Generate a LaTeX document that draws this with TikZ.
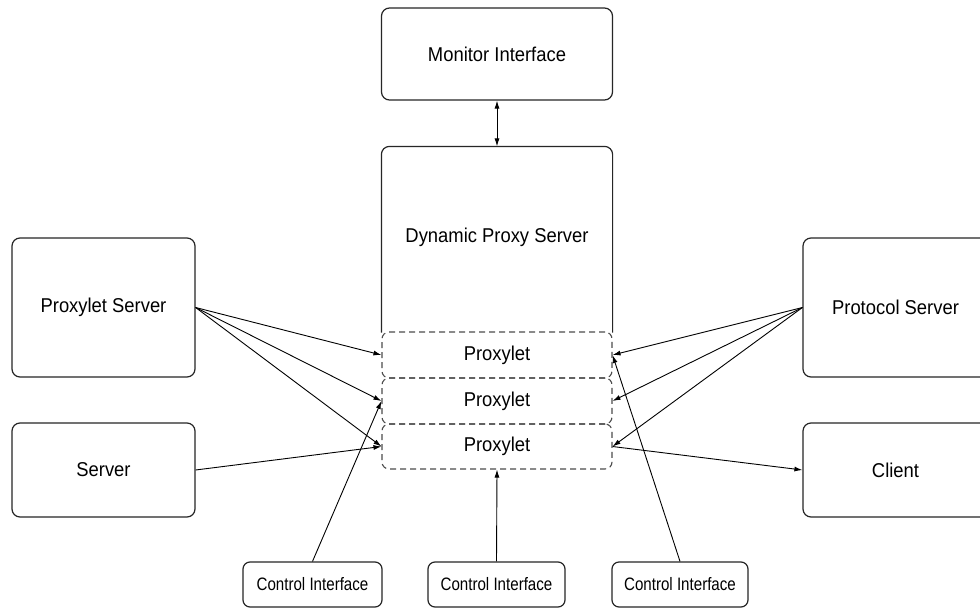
\documentclass[tikz,border=0pt]{standalone}
\usepackage{fontspec}
\setmainfont{Liberation Sans}
\newfontfamily\mainnarrow[FakeStretch=0.92]{Liberation Sans}
\newfontfamily\cinarrow[FakeStretch=0.84]{Liberation Sans}
\usetikzlibrary{arrows.meta}
\begin{document}
\begin{tikzpicture}[x=1pt,y=-1pt,
  box/.style={draw=black!85,line width=1.2pt,rounded corners=8pt,inner sep=0pt,
    font=\mainnarrow\fontsize{20}{24}\selectfont},
  proxbox/.style={draw=black!70,line width=1.1pt,dash pattern=on 6pt off 4pt,rounded corners=7pt,
    inner sep=0pt,minimum width=230pt,font=\mainnarrow\fontsize{20}{24}\selectfont},
  cibox/.style={draw=black!85,line width=1.2pt,rounded corners=7pt,inner sep=0pt,
    minimum height=45pt,font=\cinarrow\fontsize{18}{21}\selectfont},
  arr/.style={line width=0.9pt,-{Latex[length=8pt,width=5pt]}},
]
\clip (0,0) rectangle (980,608);
\fill[white] (0,0) rectangle (980,608);

\node[box,minimum width=231pt,minimum height=92pt] (mon) at (497,54) {Monitor Interface};
\node[box,draw=none,minimum width=230pt,minimum height=185pt] (dps) at (497,239.5) {};
\node[font=\mainnarrow\fontsize{20}{24}\selectfont] (dpst) at (497,237) {Dynamic Proxy Server};
\draw[line width=1.2pt,draw=black!85,rounded corners=8pt] (dps.south west) -- (dps.north west) -- (dps.north east) -- (dps.south east);

\node[proxbox,minimum height=46pt] (p1) at (497,355) {Proxylet};
\node[proxbox,minimum height=46pt] (p2) at (497,401) {Proxylet};
\node[proxbox,minimum height=45pt] (p3) at (497,446.5) {Proxylet};

\node[box,minimum width=183pt,minimum height=139pt] (ps) at (103.5,307.5) {Proxylet Server};
\node[box,minimum width=183pt,minimum height=94pt] (srv) at (103.5,470) {Server};
\node[box,minimum width=185pt,minimum height=139pt] (prs) at (895.5,307.5) {Protocol Server};
\node[box,minimum width=185pt,minimum height=94pt] (cl) at (895.5,470) {Client};

\node[cibox,minimum width=139pt] (ci1) at (312.5,584.5) {Control Interface};
\node[cibox,minimum width=137pt] (ci2) at (496.5,584.5) {Control Interface};
\node[cibox,minimum width=136pt] (ci3) at (680,584.5) {Control Interface};

\draw[line width=0.9pt,{Latex[length=8pt,width=5pt]}-{Latex[length=8pt,width=5pt]}] (mon.south) -- (dps.north);

\draw[arr] (ps.east) -- (p1.west);
\draw[arr] (ps.east) -- (p2.west);
\draw[arr] (ps.east) -- (p3.west);
\draw[arr] (srv.east) -- (p3.west);

\draw[arr] (prs.west) -- (p1.east);
\draw[arr] (prs.west) -- (p2.east);
\draw[arr] (prs.west) -- (p3.east);
\draw[arr] (p3.east) -- (cl.west);

\draw[arr] (ci1.north) -- (p2.west);
\draw[arr] (ci2.north) -- (p3.south);
\draw[arr] (ci3.north) -- (p1.east);
\end{tikzpicture}
\end{document}
